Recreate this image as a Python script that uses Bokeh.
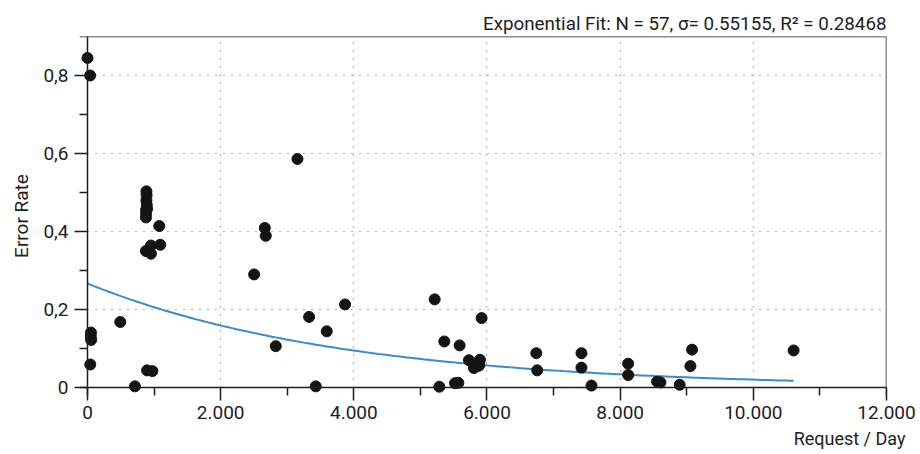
from bokeh.plotting import figure
from bokeh.models import FixedTicker, Span, Title, Range1d, ColumnDataSource
from bokeh.embed import file_html
from bokeh.resources import INLINE
import numpy as np

# ---- data ----
req_per_day = [0, 40, 52, 50, 55, 42, 492, 713,
               885, 888, 885, 890, 880, 895, 880, 878,
               878, 953, 953, 1078, 1093, 895, 975,
               2503, 2663, 2678, 2828, 3153, 3328, 3428, 3593, 3868,
               5214, 5359, 5284, 5589, 5520, 5570, 5729, 5894, 5804, 5884, 5880, 5919,
               6740, 6754, 7419, 7419, 7569, 8120, 8120, 8555, 8605, 8894, 9055, 9080, 10605]
error_rate = [0.845, 0.800, 0.141, 0.131, 0.122, 0.059, 0.168, 0.003,
              0.503, 0.493, 0.480, 0.468, 0.455, 0.458, 0.446, 0.436,
              0.350, 0.364, 0.343, 0.414, 0.366, 0.044, 0.042,
              0.290, 0.409, 0.389, 0.106, 0.586, 0.181, 0.003, 0.144, 0.213,
              0.226, 0.118, 0.002, 0.108, 0.011, 0.012, 0.070, 0.071, 0.050, 0.060, 0.056, 0.178,
              0.088, 0.044, 0.088, 0.051, 0.005, 0.061, 0.032, 0.015, 0.013, 0.007, 0.055, 0.097, 0.095]

# exponential fit parameters (y = fit_a * exp(fit_b * x))
fit_a = 0.2667
fit_b = -2.585e-4
fit_x_start = 0
fit_x_end = 10605

x_ticks = [0, 2000, 4000, 6000, 8000, 10000, 12000]
x_tick_labels = ["0", "2.000", "4.000", "6.000", "8.000", "10.000", "12.000"]
x_minor_ticks = [1000, 3000, 5000, 7000, 9000, 11000]
y_ticks = [0, 0.2, 0.4, 0.6, 0.8]
y_tick_labels = ["0", "0,2", "0,4", "0,6", "0,8"]
y_minor_ticks = [0.1, 0.3, 0.5, 0.7]

title_text = "Exponential Fit: N = 57, \u03c3= 0.55155, R\u00b2 = 0.28468"
x_label = "Request / Day"
y_label = "Error Rate"

FONT = "Roboto"
INK = "#1e1e1e"

p = figure(width=920, height=454,
           x_range=Range1d(-120, 12000), y_range=Range1d(-0.0205, 0.9),
           output_backend="svg", toolbar_location=None,
           min_border_left=79, min_border_right=34, min_border_top=36, min_border_bottom=59)
p.outline_line_color = None
p.background_fill_color = "white"
p.border_fill_color = "white"

# title
p.title.text = title_text
p.title.align = "right"
p.title.text_font = FONT
p.title.text_font_size = "18.8px"
p.title.text_font_style = "normal"
p.title.text_color = INK
p.title.standoff = 4

# axes
for ax in (p.xaxis[0], p.yaxis[0]):
    ax.axis_line_color = None
    ax.major_tick_line_color = INK
    ax.minor_tick_line_color = INK
    ax.major_tick_line_width = 1.5
    ax.minor_tick_line_width = 1.5
    ax.major_tick_in = 8
    ax.major_tick_out = 5
    ax.minor_tick_in = 8
    ax.minor_tick_out = 0
    ax.major_label_text_font = FONT
    ax.major_label_text_font_size = "19px"
    ax.major_label_text_color = INK
    ax.axis_label_text_font = FONT
    ax.axis_label_text_font_size = "19px"
    ax.axis_label_text_font_style = "normal"
    ax.axis_label_text_color = INK

p.xaxis.ticker = FixedTicker(ticks=x_ticks, minor_ticks=x_minor_ticks)
p.xaxis.major_label_overrides = dict(zip(x_ticks, x_tick_labels))
p.xaxis.major_label_standoff = 5
p.yaxis.ticker = FixedTicker(ticks=y_ticks, minor_ticks=y_minor_ticks)
p.yaxis.major_label_overrides = dict(zip(y_ticks, y_tick_labels))
p.yaxis.major_label_standoff = 6
p.yaxis.axis_label = y_label
p.yaxis.axis_label_standoff = 7

xl = Title(text=x_label, align="right", offset=-19, text_font=FONT,
           text_font_size="18px", text_font_style="normal", text_color=INK, standoff=8)
p.add_layout(xl, "below")

# grid
p.xgrid.ticker = FixedTicker(ticks=x_ticks[1:])
p.ygrid.ticker = FixedTicker(ticks=y_ticks[1:])
for g in (p.xgrid[0], p.ygrid[0]):
    g.grid_line_color = "#666666"
    g.grid_line_dash = "1 7"
    g.grid_line_width = 1.2

# frame lines (axis lines at the data origin, box on top/right)
for loc, dim in ((0, "height"), (0, "width"), (0.9, "width"), (12000, "height")):
    p.add_layout(Span(location=loc, dimension=dim, line_color=INK, line_width=1.5))

# fit curve
fx = np.linspace(fit_x_start, fit_x_end, 200)
fy = fit_a * np.exp(fit_b * fx)
p.line(fx, fy, line_color="#3a8ccc", line_width=2)

# points
src = ColumnDataSource(dict(x=req_per_day, y=error_rate))
p.scatter("x", "y", source=src, size=11, fill_color="#141414", line_color="#141414")

open("out.html", "w").write(file_html(p, INLINE))
